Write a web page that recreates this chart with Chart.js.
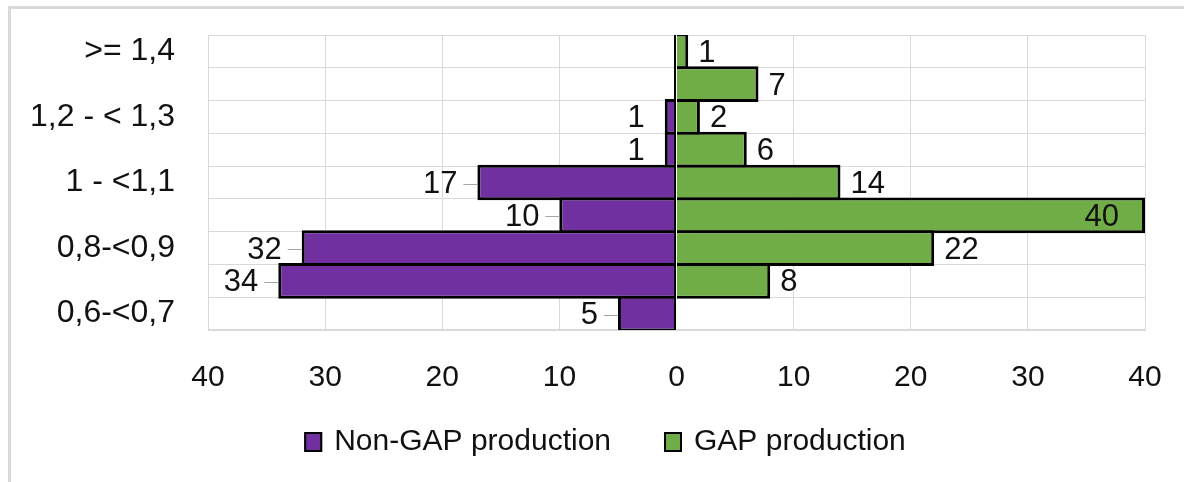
<!DOCTYPE html>
<html>
<head>
<meta charset="utf-8">
<script src="https://cdn.jsdelivr.net/npm/chart.js@4.4.1/dist/chart.umd.min.js"></script>
<style>
  html, body { margin: 0; padding: 0; background: #fff; }
  #wrap { position: relative; width: 1184px; height: 482px; overflow: hidden; }
  #frame { position: absolute; left: 8px; top: 6px; right: -10px; bottom: -10px;
           border-left: 3px solid #d9d9d9; border-top: 3px solid #d9d9d9; }
  canvas { position: absolute; left: 0; top: 0; }
</style>
</head>
<body>
<div id="wrap">
  <div id="frame"></div>
  <canvas id="c" width="1184" height="482"></canvas>
</div>
<script>
// Size classes, largest at the top
const categories = ['>= 1,4', '1,3 - < 1,4', '1,2 - < 1,3', '1,1 - < 1,2', '1 - <1,1',
                    '0,9-<1', '0,8-<0,9', '0,7-<0,8', '0,6-<0,7'];
// Counts per size class
const nonGapCounts = [0, 0, 1, 1, 17, 10, 32, 34, 5];
const gapCounts    = [1, 7, 2, 6, 14, 40, 22, 8, 0];
const seriesNames  = ['Non-GAP production', 'GAP production'];
// Value axis range and step (shown as absolute numbers on both sides)
const axisMin = -40, axisMax = 40, axisStep = 10;

const FONT = "'Liberation Sans', Arial, sans-serif";
const PURPLE = '#7030A0', GREEN = '#70AD47', GRID = '#d9d9d9', INK = '#111111';

// Black zero line with a thin white seam on its right
const zeroLinePlugin = {
  id: 'zeroLine',
  afterDatasetsDraw(chart) {
    const { ctx, chartArea: a, scales: { x } } = chart;
    const x0 = x.getPixelForValue(0);
    ctx.save();
    ctx.fillStyle = '#000';
    ctx.fillRect(Math.round(x0) - 3, a.top, 2, a.bottom - a.top);
    ctx.fillStyle = '#fff';
    ctx.fillRect(Math.round(x0) - 1, a.top, 1, a.bottom - a.top);
    ctx.restore();
  }
};

// Value labels: left series outside its end with a short leader, right series outside its end
const valueLabelPlugin = {
  id: 'valueLabels',
  afterDatasetsDraw(chart) {
    const { ctx, chartArea: a } = chart;
    ctx.save();
    ctx.font = '31px ' + FONT;
    ctx.fillStyle = INK;
    ctx.textBaseline = 'middle';
    chart.data.datasets.forEach((ds, di) => {
      const meta = chart.getDatasetMeta(di);
      meta.data.forEach((bar, i) => {
        const v = Math.abs(ds.data[i]);
        if (!v) return;
        const txt = String(v);
        const w = ctx.measureText(txt).width;
        const y = bar.y + 2;
        if (di === 0) {
          const end = bar.x;            // left end of a negative bar
          const tx = end - 20;
          ctx.textAlign = 'right';
          ctx.fillText(txt, tx, y);
          if (v >= 5) {
            ctx.strokeStyle = '#a6a6a6';
            ctx.lineWidth = 1;
            ctx.beginPath();
            ctx.moveTo(tx + 6, Math.round(y) - 0.5);
            ctx.lineTo(end, Math.round(y) - 0.5);
            ctx.stroke();
          }
        } else {
          const end = bar.x;
          if (end + 10 + w > a.right) {
            ctx.textAlign = 'right';
            ctx.fillText(txt, end - 26, y);
          } else {
            ctx.textAlign = 'left';
            ctx.fillText(txt, end + 10, y);
          }
        }
      });
    });
    ctx.restore();
  }
};

// Legend row below the value axis, built from the datasets
const legendRowPlugin = {
  id: 'legendRow',
  afterDraw(chart) {
    const { ctx } = chart;
    const cx = 605, cy = 442, boxW = 18, boxH = 20, gapText = 12, gapItem = 53;
    ctx.save();
    ctx.font = '30px ' + FONT;
    const items = chart.data.datasets.map(ds => ({
      text: ds.label, fill: ds.backgroundColor, w: ctx.measureText(ds.label).width
    }));
    const total = items.reduce((s, it) => s + boxW + gapText + it.w, 0) + gapItem * (items.length - 1);
    let x = cx - total / 2;
    ctx.textBaseline = 'middle';
    ctx.textAlign = 'left';
    items.forEach(it => {
      ctx.fillStyle = it.fill;
      ctx.fillRect(x, cy - boxH / 2, boxW, boxH);
      ctx.strokeStyle = '#000';
      ctx.lineWidth = 2;
      ctx.strokeRect(x + 1, cy - boxH / 2 + 1, boxW - 2, boxH - 2);
      ctx.fillStyle = INK;
      ctx.fillText(it.text, x + boxW + gapText, cy);
      x += boxW + gapText + it.w + gapItem;
    });
    ctx.restore();
  }
};

new Chart(document.getElementById('c'), {
  type: 'bar',
  data: {
    labels: categories,
    datasets: [
      { label: seriesNames[0], data: nonGapCounts.map(v => -v), backgroundColor: PURPLE },
      { label: seriesNames[1], data: gapCounts, backgroundColor: GREEN }
    ]
  },
  options: {
    indexAxis: 'y',
    responsive: false,
    animation: false,
    devicePixelRatio: 1,
    layout: { padding: { top: 35, left: 0, right: 39, bottom: 82 } },
    datasets: {
      bar: {
        // bars slightly taller than a row so neighbouring outlines overlap into one line
        barPercentage: 1.09,
        categoryPercentage: 1,
        borderColor: '#000',
        borderWidth: 3,
        borderSkipped: 'start'
      }
    },
    plugins: {
      legend: { display: false },
      tooltip: { enabled: false }
    },
    scales: {
      x: {
        stacked: true,
        min: axisMin,
        max: axisMax,
        afterFit(s) { s.height = 70; s.paddingLeft = 0; s.paddingRight = 0; },
        ticks: {
          stepSize: axisStep,
          padding: 30,
          color: INK,
          font: { family: FONT, size: 30 },
          callback: v => String(Math.abs(v))
        },
        grid: { color: GRID, lineWidth: 1, drawTicks: false },
        border: { color: GRID, width: 1 }
      },
      y: {
        stacked: true,
        afterFit(s) { s.width = 208; s.paddingTop = 0; s.paddingBottom = 0; },
        ticks: {
          autoSkip: false,
          padding: 33,
          color: INK,
          font: { family: FONT, size: 32 },
          callback(v, i) { return i % 2 === 0 ? this.getLabelForValue(v) : ''; }
        },
        grid: { color: GRID, lineWidth: 1, drawTicks: false, offset: true },
        border: { color: GRID, width: 1 }
      }
    }
  },
  plugins: [zeroLinePlugin, valueLabelPlugin, legendRowPlugin]
});
</script>
</body>
</html>
